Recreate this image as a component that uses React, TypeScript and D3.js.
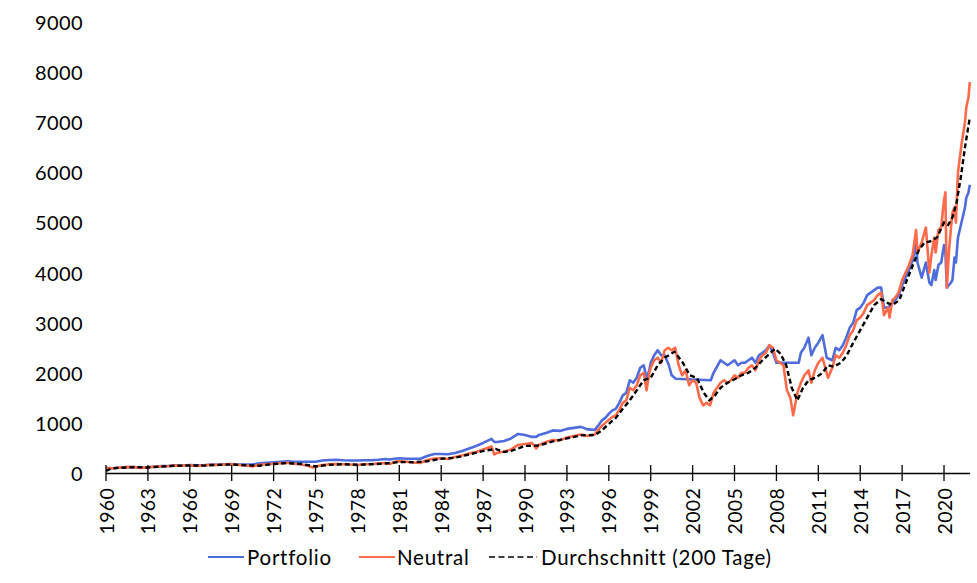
import React, { useEffect } from 'react';
import * as d3 from 'd3';

// [year, value] pairs
const neutral: [number, number][] = [
  [1960.0, 100], [1960.5, 95], [1961.0, 110], [1961.5, 120], [1962.0, 118], [1962.5, 100],
  [1963.0, 115], [1963.5, 125], [1964.0, 135], [1964.5, 140], [1965.0, 150], [1965.5, 145],
  [1966.0, 155], [1966.5, 140], [1967.0, 150], [1967.5, 165], [1968.0, 160], [1968.5, 170],
  [1969.0, 175], [1969.5, 160], [1970.0, 150], [1970.5, 130], [1971.0, 165], [1971.5, 175],
  [1972.0, 185], [1972.5, 195], [1973.0, 205], [1973.5, 185], [1974.0, 170], [1974.5, 140],
  [1974.8, 110], [1975.0, 130], [1975.5, 160], [1976.0, 175], [1976.5, 180], [1977.0, 175],
  [1977.5, 170], [1978.0, 160], [1978.5, 175], [1979.0, 180], [1979.5, 190], [1980.0, 200],
  [1980.3, 180], [1980.8, 230], [1981.0, 235], [1981.5, 225], [1982.0, 210], [1982.5, 200],
  [1983.0, 260], [1983.5, 290], [1984.0, 295], [1984.5, 280], [1985.0, 320], [1985.5, 350],
  [1986.0, 390], [1986.5, 420], [1987.0, 470], [1987.6, 530], [1987.8, 370], [1988.0, 400],
  [1988.5, 430], [1989.0, 470], [1989.5, 560], [1990.0, 580], [1990.5, 600], [1990.8, 490],
  [1991.0, 560], [1991.5, 620], [1992.0, 660], [1992.5, 650], [1993.0, 710], [1993.5, 740],
  [1994.0, 770], [1994.5, 740], [1995.0, 770], [1995.25, 860], [1995.5, 940], [1995.75, 1000],
  [1996.0, 1060], [1996.25, 1120], [1996.5, 1150], [1996.75, 1260], [1997.0, 1400], [1997.25, 1450],
  [1997.5, 1700], [1997.75, 1650], [1998.0, 1750], [1998.25, 1950], [1998.5, 2000], [1998.7, 1650],
  [1998.9, 2000], [1999.0, 2100], [1999.25, 2250], [1999.5, 2300], [1999.75, 2200], [2000.0, 2450],
  [2000.25, 2500], [2000.5, 2450], [2000.75, 2500], [2001.0, 2150], [2001.25, 1950], [2001.5, 2050],
  [2001.75, 1750], [2002.0, 1850], [2002.25, 1800], [2002.5, 1500], [2002.75, 1350], [2003.0, 1400],
  [2003.25, 1350], [2003.5, 1600], [2003.75, 1700], [2004.0, 1800], [2004.25, 1850], [2004.5, 1800],
  [2004.75, 1850], [2005.0, 1950], [2005.25, 1900], [2005.5, 2000], [2005.75, 2000], [2006.0, 2100],
  [2006.25, 2150], [2006.5, 2050], [2006.75, 2250], [2007.0, 2350], [2007.25, 2400], [2007.5, 2550],
  [2007.75, 2500], [2008.0, 2250], [2008.25, 2200], [2008.5, 2150], [2008.75, 1650], [2009.0, 1500],
  [2009.2, 1150], [2009.5, 1600], [2009.75, 1800], [2010.0, 1950], [2010.3, 2050], [2010.5, 1800],
  [2010.75, 2050], [2011.0, 2200], [2011.3, 2300], [2011.7, 1900], [2012.0, 2100], [2012.25, 2350],
  [2012.5, 2300], [2012.75, 2400], [2013.0, 2550], [2013.25, 2750], [2013.5, 2850], [2013.75, 3050],
  [2014.0, 3100], [2014.25, 3200], [2014.5, 3350], [2014.75, 3400], [2015.0, 3450], [2015.25, 3550],
  [2015.5, 3600], [2015.7, 3150], [2016.0, 3300], [2016.1, 3100], [2016.3, 3450], [2016.5, 3500],
  [2016.75, 3600], [2017.0, 3850], [2017.25, 4000], [2017.5, 4150], [2017.75, 4350], [2018.0, 4850],
  [2018.1, 4400], [2018.4, 4600], [2018.7, 4900], [2018.95, 4000], [2019.1, 4350], [2019.3, 4700],
  [2019.4, 4400], [2019.6, 4850], [2019.8, 4900], [2020.0, 5450], [2020.1, 5600], [2020.2, 3700],
  [2020.35, 4400], [2020.5, 4900], [2020.6, 5200], [2020.75, 5300], [2020.85, 5000], [2021.0, 6000],
  [2021.25, 6550], [2021.5, 7000], [2021.6, 7300], [2021.75, 7500], [2021.85, 7800],
];

const portfolio: [number, number][] = [
  [1960.0, 100], [1960.5, 95], [1961.0, 110], [1961.5, 120], [1962.0, 118], [1962.5, 108],
  [1963.0, 115], [1963.5, 128], [1964.0, 138], [1964.5, 143], [1965.0, 152], [1965.5, 150],
  [1966.0, 158], [1966.5, 152], [1967.0, 155], [1967.5, 170], [1968.0, 165], [1968.5, 175],
  [1969.0, 180], [1969.5, 170], [1970.0, 170], [1970.5, 170], [1971.0, 195], [1971.5, 205],
  [1972.0, 215], [1972.5, 225], [1973.0, 235], [1973.5, 225], [1974.0, 225], [1975.0, 225],
  [1975.5, 250], [1976.0, 260], [1976.5, 265], [1977.0, 255], [1977.5, 250], [1978.0, 250],
  [1978.5, 255], [1979.0, 255], [1979.5, 265], [1980.0, 280], [1980.3, 270], [1980.8, 290],
  [1981.0, 295], [1981.5, 285], [1982.5, 285], [1983.0, 340], [1983.5, 380], [1984.0, 380],
  [1984.5, 375], [1985.0, 400], [1985.5, 440], [1986.0, 490], [1986.5, 540], [1987.0, 600],
  [1987.6, 680], [1987.8, 620], [1988.0, 620], [1988.5, 640], [1989.0, 690], [1989.5, 780],
  [1990.0, 760], [1990.5, 720], [1990.8, 720], [1991.0, 760], [1991.5, 800], [1992.0, 850],
  [1992.5, 840], [1993.0, 880], [1993.5, 900], [1994.0, 920], [1994.5, 870], [1995.0, 860],
  [1995.25, 950], [1995.5, 1050], [1995.75, 1100], [1996.0, 1180], [1996.25, 1250], [1996.5, 1280],
  [1996.75, 1400], [1997.0, 1550], [1997.25, 1600], [1997.5, 1850], [1997.75, 1800], [1998.0, 1900],
  [1998.25, 2100], [1998.5, 2150], [1998.7, 1900], [1998.9, 2050], [1999.0, 2200], [1999.25, 2350],
  [1999.5, 2450], [1999.75, 2350], [2000.0, 2350], [2000.3, 2150], [2000.5, 1950], [2000.8, 1880],
  [2003.3, 1850], [2003.5, 2000], [2004.0, 2250], [2004.25, 2200], [2004.5, 2150], [2004.75, 2200],
  [2005.0, 2250], [2005.25, 2150], [2005.5, 2200], [2005.75, 2200], [2006.0, 2250], [2006.25, 2300],
  [2006.5, 2200], [2006.75, 2350], [2007.0, 2400], [2007.25, 2450], [2007.5, 2550], [2007.75, 2400],
  [2008.0, 2200], [2009.6, 2200], [2009.75, 2400], [2010.0, 2500], [2010.3, 2700], [2010.5, 2350],
  [2010.75, 2500], [2011.0, 2600], [2011.3, 2750], [2011.6, 2300], [2012.0, 2250], [2012.25, 2500],
  [2012.5, 2450], [2012.75, 2550], [2013.0, 2700], [2013.25, 2900], [2013.5, 3000], [2013.75, 3250],
  [2014.0, 3300], [2014.25, 3400], [2014.5, 3550], [2014.75, 3600], [2015.0, 3650], [2015.25, 3700],
  [2015.5, 3700], [2015.7, 3300], [2016.0, 3300], [2016.3, 3400], [2016.5, 3450], [2016.75, 3550],
  [2017.0, 3750], [2017.25, 3900], [2017.5, 4050], [2017.75, 4250], [2018.0, 4550], [2018.1, 4200],
  [2018.4, 3900], [2018.7, 4200], [2018.95, 3800], [2019.1, 3750], [2019.3, 4050], [2019.4, 3850],
  [2019.6, 4150], [2019.8, 4200], [2020.0, 4550], [2020.1, 4400], [2020.2, 3700], [2020.5, 3800],
  [2020.6, 3850], [2020.75, 4300], [2020.85, 4200], [2021.0, 4700], [2021.25, 5000], [2021.5, 5300],
  [2021.6, 5500], [2021.75, 5600], [2021.85, 5750],
];

const average: [number, number][] = [
  [1960.0, 40], [1960.4, 90], [1961.0, 105], [1962.0, 115], [1963.0, 110], [1964.0, 130],
  [1965.0, 145], [1966.0, 150], [1967.0, 148], [1968.0, 162], [1969.0, 170], [1970.0, 155],
  [1971.0, 145], [1972.0, 180], [1973.0, 198], [1974.0, 180], [1975.0, 130], [1976.0, 165],
  [1977.0, 175], [1978.0, 165], [1979.0, 175], [1980.0, 190], [1981.0, 220], [1982.0, 215],
  [1983.0, 235], [1984.0, 285], [1985.0, 305], [1986.0, 370], [1987.0, 440], [1987.9, 480],
  [1988.5, 420], [1989.0, 440], [1990.0, 540], [1991.0, 550], [1992.0, 630], [1993.0, 690],
  [1994.0, 750], [1995.0, 760], [1995.5, 850], [1996.0, 980], [1996.5, 1100], [1997.0, 1280],
  [1997.5, 1450], [1998.0, 1650], [1998.5, 1850], [1999.0, 1900], [1999.5, 2150], [2000.0, 2300],
  [2000.7, 2420], [2001.3, 2200], [2001.8, 1950], [2002.3, 1900], [2002.8, 1600], [2003.2, 1450],
  [2003.6, 1550], [2004.0, 1700], [2004.5, 1800], [2005.0, 1870], [2005.5, 1950], [2006.0, 2000],
  [2006.5, 2100], [2007.0, 2250], [2007.5, 2380], [2007.9, 2480], [2008.3, 2380], [2008.7, 2150],
  [2009.1, 1700], [2009.5, 1450], [2009.9, 1700], [2010.3, 1850], [2010.8, 1900], [2011.3, 2000],
  [2011.7, 2150], [2012.1, 2120], [2012.6, 2200], [2013.0, 2330], [2013.5, 2600], [2014.0, 2850],
  [2014.5, 3100], [2015.0, 3350], [2015.5, 3470], [2015.9, 3400], [2016.3, 3350], [2016.8, 3450],
  [2017.2, 3750], [2017.7, 4100], [2018.2, 4450], [2018.6, 4600], [2019.0, 4620], [2019.5, 4700],
  [2020.0, 5000], [2020.3, 4950], [2020.6, 5100], [2020.9, 5400], [2021.2, 5900], [2021.5, 6500],
  [2021.85, 7100],
];

const xTicks = d3.range(1960, 2021, 3);
const yTicks = d3.range(0, 9001, 1000);

const seriesNames = ['Portfolio', 'Neutral', 'Durchschnitt (200 Tage)'];
const seriesColors = ['#4f6cdd', '#ff6b4a', '#000000'];

const W = 977;
const H = 583;
const FONT = 'Lato, "Noto Sans", sans-serif';

export default function App() {
  useEffect(() => {
    document.body.style.margin = '0';
  }, []);

  const x = d3.scaleLinear().domain([1960, 2021.86]).range([106, 970]);
  const y = d3.scaleLinear().domain([0, 9000]).range([473, 22]);

  const line = d3
    .line<[number, number]>()
    .x((d) => x(d[0]))
    .y((d) => y(d[1]));

  const legendItems = [
    { x1: 208, x2: 244, tx: 247 },
    { x1: 359, x2: 395, tx: 397 },
    { x1: 489, x2: 537, tx: 541 },
  ];

  return (
    <svg width={W} height={H} style={{ display: 'block', background: '#fff' }} fontFamily={FONT}>
      {/* y tick labels */}
      {yTicks.map((t) => (
        <text key={t} x={83} y={y(t)} textAnchor="end" dominantBaseline="central" fontSize={20} letterSpacing={0.4} fill="#000">
          {t}
        </text>
      ))}

      {/* series */}
      <path d={line(portfolio) ?? ''} fill="none" stroke={seriesColors[0]} strokeWidth={2.6} strokeLinejoin="round" />
      <path d={line(neutral) ?? ''} fill="none" stroke={seriesColors[1]} strokeWidth={2.6} strokeLinejoin="round" />
      <path d={line(average) ?? ''} fill="none" stroke={seriesColors[2]} strokeWidth={2.4} strokeDasharray="5,3" />

      {/* x axis */}
      <line x1={106} x2={970} y1={473.5} y2={473.5} stroke="#000" strokeWidth={1.3} />
      {xTicks.map((t) => (
        <g key={t} transform={`translate(${x(t)},0)`}>
          <line y1={465} y2={481} stroke="#000" strokeWidth={1.3} />
          <text
            transform="translate(0,488) rotate(-90)"
            textAnchor="end"
            dominantBaseline="central"
            fontSize={19.5}
            letterSpacing={0.3}
            fill="#000"
          >
            {t}
          </text>
        </g>
      ))}

      {/* legend */}
      {legendItems.map((l, i) => (
        <g key={seriesNames[i]}>
          <line
            x1={l.x1}
            x2={l.x2}
            y1={557}
            y2={557}
            stroke={seriesColors[i]}
            strokeWidth={i === 2 ? 1.6 : 2}
            strokeDasharray={i === 2 ? '6,3.5' : undefined}
          />
          <text x={l.tx} y={557} dominantBaseline="central" fontSize={20.5} letterSpacing={0.75} fill="#000">
            {seriesNames[i]}
          </text>
        </g>
      ))}
    </svg>
  );
}
